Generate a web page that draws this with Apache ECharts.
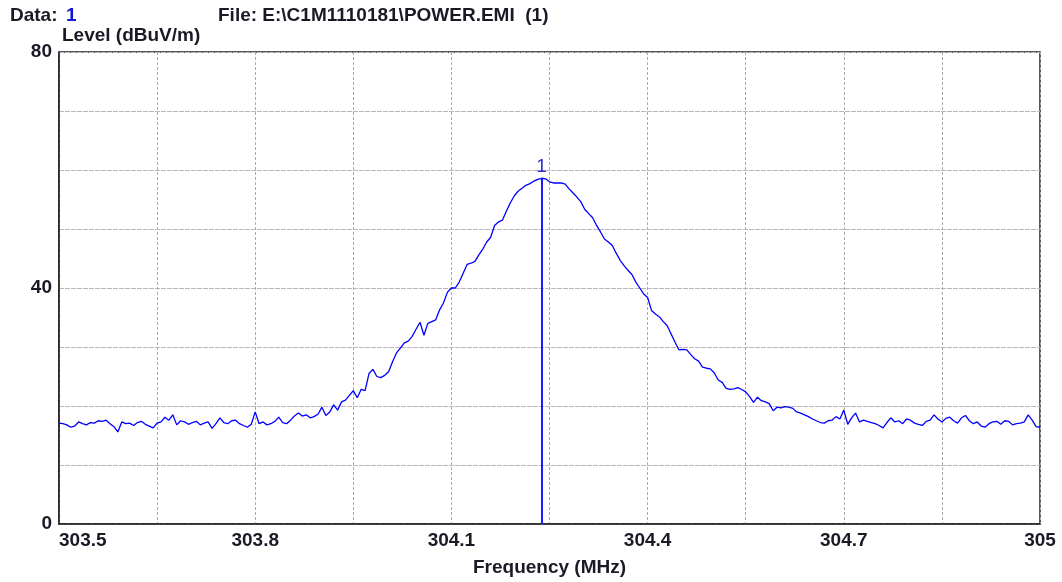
<!DOCTYPE html>
<html>
<head>
<meta charset="utf-8">
<script src="https://cdn.jsdelivr.net/npm/echarts@6/dist/echarts.min.js"></script>
<style>
html,body{margin:0;padding:0;background:#fff;}
#chart{width:1062px;height:582px;}
</style>
</head>
<body>
<div id="chart"></div>
<script>
// Sweep: start frequency and step (MHz)
var freqStart = 303.5;
var freqStep = 0.006;
var levels = [
17.1,17.0,16.8,16.4,16.6,17.3,17.0,16.8,17.2,17.1,
17.5,17.4,17.6,17.0,16.5,15.6,17.3,17.0,17.1,16.7,
17.2,17.4,16.9,16.6,16.3,17.1,17.3,18.1,17.6,18.5,
16.8,17.5,17.3,16.9,17.2,17.4,16.8,17.1,17.3,16.2,
17.0,18.0,17.2,17.0,17.5,17.6,17.0,16.7,16.4,16.9,
19.0,17.0,17.3,16.8,17.0,17.4,18.1,17.2,17.0,17.6,
18.3,18.8,18.3,18.5,18.0,18.2,18.6,19.8,18.4,19.0,
20.2,19.3,20.7,21.0,21.8,22.6,21.4,22.8,22.6,25.5,
26.2,25.0,24.8,25.2,25.8,27.5,29.0,29.8,30.7,31.0,
31.8,33.0,34.2,32.0,34.0,34.3,34.6,36.3,37.5,39.3,
40.0,40.0,41.0,42.5,44.0,44.2,44.5,45.6,46.6,47.8,
48.6,50.6,51.2,51.5,53.0,54.4,55.6,56.4,56.9,57.4,
57.7,58.1,58.4,58.6,58.5,58.0,57.8,57.8,57.8,57.6,
56.8,56.1,55.4,54.6,53.3,52.6,51.9,50.6,49.5,48.3,
47.8,47.2,45.9,44.7,43.8,43.0,42.3,41.0,40.0,39.0,
38.4,36.2,35.6,35.1,34.3,33.6,32.2,30.8,29.5,29.6,
29.5,28.7,28.0,27.6,26.6,26.4,26.3,25.6,24.4,24.0,
23.0,22.8,22.9,23.1,22.8,22.4,21.6,20.6,21.5,20.9,
20.7,20.4,19.2,19.8,19.7,19.9,19.8,19.6,19.0,18.8,
18.5,18.2,17.8,17.5,17.2,17.1,17.5,17.6,18.2,17.8,
19.3,16.9,18.0,18.8,17.3,17.6,17.4,17.2,17.0,16.7,
16.3,17.2,18.0,17.3,17.5,17.0,17.8,17.6,17.1,16.9,
16.7,17.4,17.6,18.5,17.8,17.3,17.9,18.1,17.5,17.1,
18.0,18.4,17.5,17.0,17.3,16.6,16.4,17.0,17.3,17.4,
16.9,17.5,17.4,16.8,17.0,17.1,17.3,18.5,17.6,16.5,
16.4
];
// Marker 1
var markerFreq = [304.238];
var markerLevel = [58.6];
var markerLabel = ['1'];
// Axis settings
var yTickLabels = [0, 40, 80];

var data = levels.map(function (v, i) {
  return [+(freqStart + i * freqStep).toFixed(4), v];
});

var chart = echarts.init(document.getElementById('chart'), null, {renderer: 'canvas'});
var font = 'Liberation Sans, Arial, sans-serif';
var textColor = '#1a1a26';

chart.setOption({
  animation: false,
  backgroundColor: '#ffffff',
  grid: {
    left: 59, right: 22, top: 52, bottom: 58,
    containLabel: false,
    show: true,
    borderColor: '#222',
    borderWidth: 1.5,
    backgroundColor: 'transparent'
  },
  xAxis: {
    type: 'value',
    min: 303.5,
    max: 305,
    interval: 0.15,
    name: 'Frequency (MHz)',
    nameLocation: 'middle',
    nameGap: 34,
    nameTextStyle: {fontFamily: font, fontWeight: 'bold', fontSize: 19, color: textColor},
    axisLine: {show: true, lineStyle: {color: '#222', width: 1.5}},
    axisTick: {show: false},
    axisLabel: {
      fontFamily: font, fontWeight: 'bold', fontSize: 19, color: textColor,
      margin: 7,
      alignMinLabel: 'left',
      formatter: function (v) {
        var k = Math.round((v - 303.5) / 0.15);
        if (k % 2 !== 0) return '';
        return String(parseFloat((303.5 + k * 0.15).toFixed(2)));
      }
    },
    splitLine: {show: true, lineStyle: {color: '#aaaaaa', width: 1, type: [3, 2]}}
  },
  yAxis: {
    type: 'value',
    min: 0,
    max: 80,
    interval: 10,
    axisLine: {show: true, lineStyle: {color: '#222', width: 1.5}},
    axisTick: {show: false},
    axisLabel: {
      fontFamily: font, fontWeight: 'bold', fontSize: 19, color: textColor,
      margin: 7,
      formatter: function (v) {
        return yTickLabels.indexOf(v) >= 0 ? String(v) : '';
      }
    },
    splitLine: {show: true, lineStyle: {color: '#c2b2c4', width: 1.2, type: [5, 1]}}
  },
  graphic: [
    {type: 'text', left: 10, top: 6, style: {text: 'Data:', font: 'bold 19px ' + font, fill: textColor}},
    {type: 'text', left: 66, top: 6, style: {text: '1', font: 'bold 19px ' + font, fill: '#1515d0'}},
    {type: 'text', left: 218, top: 6, style: {text: 'File: E:\\C1M1110181\\POWER.EMI  (1)', font: 'bold 19px ' + font, fill: textColor}},
    {type: 'text', left: 62, top: 26, style: {text: 'Level (dBuV/m)', font: 'bold 19px ' + font, fill: textColor}}
  ],
  series: [{
    type: 'line',
    data: data,
    showSymbol: false,
    symbol: 'none',
    lineStyle: {color: '#0000ff', width: 1.3},
    z: 3,
    markLine: {
      silent: true,
      symbol: ['none', 'none'],
      lineStyle: {color: '#1a1aff', width: 2, type: 'solid'},
      label: {
        show: true,
        position: 'end',
        distance: 2,
        formatter: markerLabel[0],
        fontFamily: font,
        fontSize: 19,
        color: '#3030d0'
      },
      data: [[
        {coord: [markerFreq[0], 0]},
        {coord: [markerFreq[0], markerLevel[0]]}
      ]]
    }
  }]
});
</script>
</body>
</html>
